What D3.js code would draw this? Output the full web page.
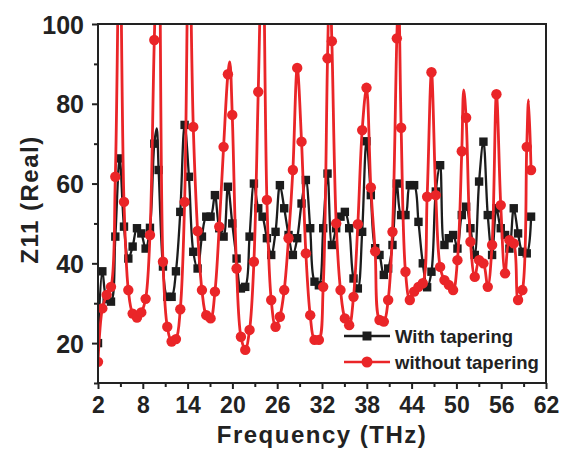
<!DOCTYPE html>
<html>
<head>
<meta charset="utf-8">
<script src="https://cdn.jsdelivr.net/npm/d3@7"></script>
<style>
  html, body { margin: 0; padding: 0; background: #fff; }
  svg { display: block; }
  text { font-family: "Liberation Sans", Arial, sans-serif; font-weight: bold; fill: #222; }
</style>
</head>
<body>
<svg id="chart" width="569" height="459"></svg>
<script>
// ---- data ----
const frequency = [2, 2.58, 3.16, 3.74, 4.32, 4.9, 5.48, 6.06, 6.64, 7.22, 7.8, 8.38, 8.96, 9.54, 10.12, 10.7, 11.28, 11.86, 12.44, 13.02, 13.6, 14.18, 14.76, 15.34, 15.92, 16.5, 17.08, 17.66, 18.24, 18.82, 19.4, 19.98, 20.56, 21.14, 21.72, 22.3, 22.88, 23.46, 24.04, 24.62, 25.2, 25.78, 26.36, 26.94, 27.52, 28.1, 28.68, 29.26, 29.84, 30.42, 31, 31.58, 32.16, 32.74, 33.32, 33.9, 34.48, 35.06, 35.64, 36.22, 36.8, 37.38, 37.96, 38.54, 39.12, 39.7, 40.28, 40.86, 41.44, 42.02, 42.6, 43.18, 43.76, 44.34, 44.92, 45.5, 46.08, 46.66, 47.24, 47.82, 48.4, 48.98, 49.56, 50.14, 50.72, 51.3, 51.88, 52.46, 53.04, 53.62, 54.2, 54.78, 55.36, 55.94, 56.52, 57.1, 57.68, 58.26, 58.84, 59.42, 60];

const withTapering = [20, 38, 31, 30.4, 46.7, 66.3, 49.2, 41.2, 44.2, 48.8, 47.5, 43.7, 48.9, 70, 63.4, 39.2, 31.6, 31.6, 38, 52.9, 74.7, 61.7, 42.9, 38.7, 46.7, 51.7, 51.7, 57.1, 48.8, 46.7, 59.2, 50, 41.2, 33.7, 34.1, 46.7, 60, 53.8, 51.7, 46.3, 42.1, 47.9, 59.6, 53.8, 47.1, 42.1, 46.3, 55, 60.9, 48.8, 35.4, 34.5, 48.8, 62.5, 44.6, 48.8, 51.7, 52.9, 48.8, 36.2, 33.7, 47.9, 70.6, 57.1, 43.8, 42.1, 37.1, 38.7, 44.6, 60, 52.1, 52.1, 59.6, 59.6, 50.4, 40, 34, 37.9, 58, 64.6, 44.6, 46.3, 47.1, 43.7, 52.1, 54.2, 48.8, 42.1, 60.5, 70.5, 52.1, 42.1, 53.8, 48.8, 47.1, 43.7, 53.8, 47.5, 42.9, 42.5, 51.7];

const withoutTapering = [15.3, 28.7, 32.1, 34.1, 61.7, 125, 55.4, 33.3, 27.4, 26.4, 27.7, 31.1, 47.1, 96, 130, 40.4, 24.1, 20.4, 21, 28.5, 55.4, 125, 74.2, 48.1, 33.3, 27, 26.2, 32.9, 49.2, 69.2, 87.4, 77.2, 38.7, 21.6, 18.3, 23.3, 40.4, 83, 125, 55.9, 30.8, 24.1, 26.6, 33.3, 46.3, 63.4, 89, 70.5, 42.5, 27, 20.8, 20.8, 34.1, 91.4, 95.7, 50, 33.3, 26.2, 24.5, 31.6, 49.8, 73.4, 84, 59, 43, 25.8, 25.4, 30.8, 47.9, 96.4, 74, 37.9, 30.8, 32.9, 34.1, 35, 56.7, 87.9, 57.1, 39.1, 35.8, 34.6, 33.3, 40.8, 68.1, 76.5, 45.4, 36.6, 40.8, 40, 34.1, 44.6, 82.4, 54.6, 37.5, 45.8, 45, 30.8, 33.3, 69.2, 63.4];

// resonance tips that the curves reach between plotted symbols (line only, no symbol)
const withTaperingTipFreq = [9.86];
const withTaperingTipValue = [73.8];
const withoutTaperingTipFreq = [19.65, 33.03, 42.25, 50.98, 59.66];
const withoutTaperingTipValue = [90.5, 112, 108, 83.5, 81];

const seriesNames = ["With tapering", "without tapering"];
const xTickValues = [2, 8, 14, 20, 26, 32, 38, 44, 50, 56, 62];
const yTickValues = [20, 40, 60, 80, 100];
const xTitle = "Frequency (THz)";
const yTitle = "Z11 (Real)";

// ---- layout ----
const svg = d3.select("#chart");
const L = 98, R = 546, T = 24, B = 383;
const x = d3.scaleLinear().domain([2, 62]).range([L, R]);
const y = d3.scaleLinear().domain([10, 100]).range([B, T]);
const black = "#1c1c1c", red = "#ea2528";

svg.append("defs").append("clipPath").attr("id", "plotclip")
  .append("rect").attr("x", L).attr("y", T).attr("width", R - L).attr("height", B - T);

const plot = svg.append("g").attr("clip-path", "url(#plotclip)");

function drawSeries(vals, tipF, tipV, color, shape, lw) {
  const pts = frequency.map((f, i) => [f, vals[i]]);
  const linePts = pts.concat(tipF.map((f, i) => [f, tipV[i]])).sort((a, b) => a[0] - b[0]);
  const line = d3.line().x(d => x(d[0])).y(d => y(d[1])).curve(d3.curveCatmullRom.alpha(0.5));
  plot.append("path").datum(linePts).attr("d", line)
    .attr("fill", "none").attr("stroke", color).attr("stroke-width", lw).attr("stroke-linejoin", "round");
  if (shape === "square") {
    plot.selectAll(null).data(pts).enter().append("rect")
      .attr("x", d => x(d[0]) - 4.2).attr("y", d => y(d[1]) - 4.2)
      .attr("width", 8.4).attr("height", 8.4).attr("fill", color);
  } else {
    plot.selectAll(null).data(pts).enter().append("circle")
      .attr("cx", d => x(d[0])).attr("cy", d => y(d[1])).attr("r", 5.2).attr("fill", color);
  }
}
drawSeries(withTapering, withTaperingTipFreq, withTaperingTipValue, black, "square", 2.3);
drawSeries(withoutTapering, withoutTaperingTipFreq, withoutTaperingTipValue, red, "circle", 2.8);

// ---- axes ----
const xAxis = d3.axisBottom(x).tickValues(xTickValues).tickSize(6).tickPadding(8);
const gx = svg.append("g").attr("transform", `translate(0,${B})`).call(xAxis);
gx.selectAll(".tick text").style("font-size", "23px").attr("dy", "0.71em");
const xMinor = d3.axisBottom(x).tickValues(xTickValues.slice(0, -1).map(v => v + 3)).tickSize(4).tickFormat("");
svg.append("g").attr("transform", `translate(0,${B})`).call(xMinor);

const yAxis = d3.axisLeft(y).tickValues(yTickValues).tickSize(6).tickPadding(8);
const gy = svg.append("g").attr("transform", `translate(${L},0)`).call(yAxis);
gy.selectAll(".tick text").style("font-size", "25px").attr("dy", "0.36em");
const yMinor = d3.axisLeft(y).tickValues(yTickValues.map(v => v - 10)).tickSize(4).tickFormat("");
svg.append("g").attr("transform", `translate(${L},0)`).call(yMinor);

svg.selectAll(".domain").remove();
svg.selectAll(".tick line").attr("stroke", "#222").attr("stroke-width", 2);
svg.selectAll(".tick text").attr("fill", "#222")
  .style("font-family", '"Liberation Sans", Arial, sans-serif').style("font-weight", "bold");

// frame
svg.append("rect").attr("x", L).attr("y", T).attr("width", R - L).attr("height", B - T)
  .attr("fill", "none").attr("stroke", "#222").attr("stroke-width", 2);

// titles
svg.append("text").attr("x", 322).attr("y", 443).attr("text-anchor", "middle")
  .style("font-size", "24px").style("letter-spacing", "1.5px").text(xTitle);
svg.append("text").attr("transform", `translate(38,${(T + B) / 2 - 4}) rotate(-90)`)
  .attr("text-anchor", "middle").style("font-size", "24px").style("letter-spacing", "1.5px").text(yTitle);

// legend
const leg = svg.append("g");
[[black, "square", 336], [red, "circle", 362]].forEach((s, i) => {
  leg.append("line").attr("x1", 344).attr("x2", 390).attr("y1", s[2]).attr("y2", s[2])
    .attr("stroke", s[0]).attr("stroke-width", 2.5);
  if (s[1] === "square") leg.append("rect").attr("x", 362.5).attr("y", s[2] - 4.5).attr("width", 9).attr("height", 9).attr("fill", s[0]);
  else leg.append("circle").attr("cx", 367).attr("cy", s[2]).attr("r", 5.5).attr("fill", s[0]);
  leg.append("text").attr("x", 395).attr("y", s[2] + 6.5).style("font-size", "18.5px").text(seriesNames[i]);
});
</script>
</body>
</html>
